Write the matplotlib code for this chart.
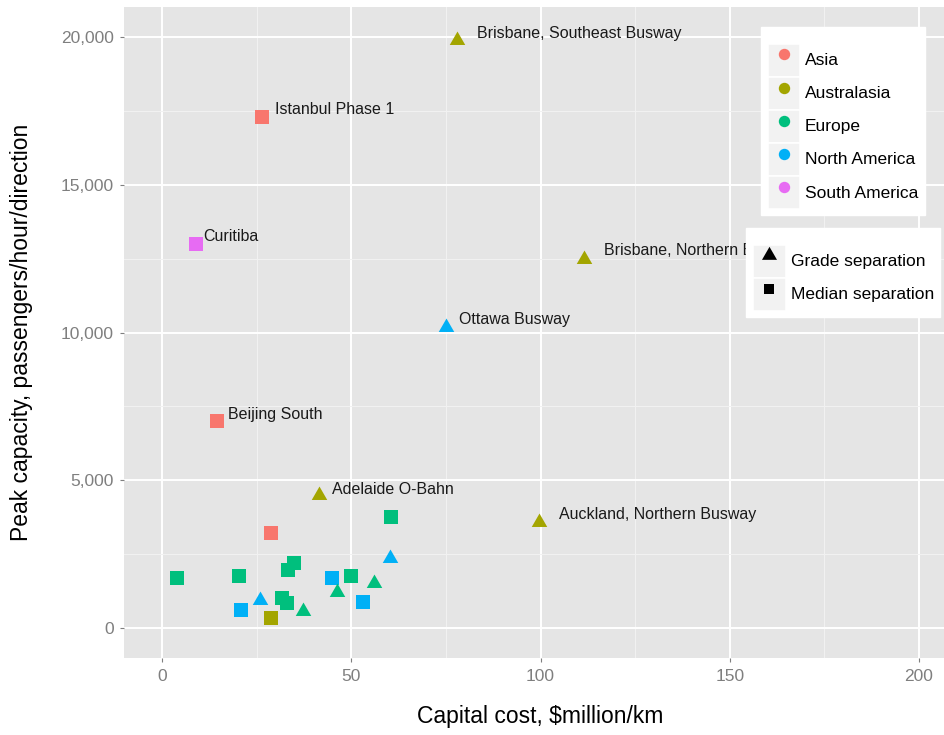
import matplotlib
matplotlib.use("Agg")
import matplotlib.pyplot as plt
from matplotlib.lines import Line2D
from matplotlib.patches import Rectangle
from matplotlib.legend_handler import HandlerTuple
from matplotlib.ticker import MultipleLocator, FuncFormatter

plt.rcParams['font.family'] = ['Liberation Sans', 'DejaVu Sans']

# ---- data -------------------------------------------------------------
system_names = [
    "Brisbane, Southeast Busway", "Istanbul Phase 1", "Curitiba",
    "Brisbane, Northern Busway", "Ottawa Busway", "Beijing South",
    "Adelaide O-Bahn", "Auckland, Northern Busway",
    "", "", "", "", "", "", "", "", "", "", "", "", "", "", "", "", "", "",
]
capital_cost = [
    78.0, 26.5, 9.0, 111.5, 75.0, 14.5, 41.5, 99.5,
    28.8, 3.9, 20.4, 34.8, 33.3, 25.9, 20.8, 31.7, 32.9, 28.8,
    37.3, 44.9, 49.9, 46.3, 55.9, 53.0, 60.2, 60.4,
]
peak_capacity = [
    19900, 17300, 13000, 12500, 10200, 7000, 4500, 3600,
    3200, 1700, 1750, 2200, 1950, 950, 600, 1000, 850, 350,
    580, 1700, 1750, 1230, 1530, 880, 2380, 3750,
]
region = [
    "Australasia", "Asia", "South America", "Australasia", "North America",
    "Asia", "Australasia", "Australasia",
    "Asia", "Europe", "Europe", "Europe", "Europe", "North America",
    "North America", "Europe", "Europe", "Australasia",
    "Europe", "North America", "Europe", "Europe", "Europe",
    "North America", "North America", "Europe",
]
separation = [
    "Grade separation", "Median separation", "Median separation",
    "Grade separation", "Grade separation", "Median separation",
    "Grade separation", "Grade separation",
    "Median separation", "Median separation", "Median separation",
    "Median separation", "Median separation", "Grade separation",
    "Median separation", "Median separation", "Median separation",
    "Median separation",
    "Grade separation", "Median separation", "Median separation",
    "Grade separation", "Grade separation", "Median separation",
    "Grade separation", "Median separation",
]

region_levels = ["Asia", "Australasia", "Europe", "North America", "South America"]
separation_levels = ["Grade separation", "Median separation"]

x_ticks = [0, 50, 100, 150, 200]
y_ticks = [0, 5000, 10000, 15000, 20000]

# ---- styling ----------------------------------------------------------
region_colors = dict(zip(region_levels,
                         ["#F8766D", "#A3A500", "#00BF7D", "#00B0F6", "#E76BF3"]))
triangle = [(0.0, 1.0), (0.866, -0.5), (-0.866, -0.5), (0.0, 1.0)]
shape_markers = {"Grade separation": triangle, "Median separation": "s"}
shape_sizes = {"Grade separation": 12.9, "Median separation": 9.4}

# text offsets (pixels right / up of the point) for the named systems
label_offsets = {
    "Brisbane, Southeast Busway": (20, 6),
    "Istanbul Phase 1": (13, 7),
    "Curitiba": (7, 7),
    "Brisbane, Northern Busway": (20, 8),
    "Ottawa Busway": (13, 7),
    "Beijing South": (11, 7),
    "Adelaide O-Bahn": (13, 6),
    "Auckland, Northern Busway": (20, 7),
}

W, H = 945, 735
fig = plt.figure(figsize=(W / 100, H / 100), dpi=100)
fig.patch.set_facecolor("white")

# panel: x from -10 to 210, y from -1000 to 21000 (right side runs past the frame)
px_left, px_right = 124.15, 956.9
px_top, px_bottom = 7.45, 657.6
ax = fig.add_axes([px_left / W, 1 - px_bottom / H,
                   (px_right - px_left) / W, (px_bottom - px_top) / H])
ax.set_xlim(-10, 210)
ax.set_ylim(-1000, 21000)
ax.set_facecolor("#E5E5E5")
for s in ax.spines.values():
    s.set_visible(False)

ax.xaxis.set_major_locator(MultipleLocator(50))
ax.xaxis.set_minor_locator(MultipleLocator(25))
ax.yaxis.set_major_locator(MultipleLocator(5000))
ax.yaxis.set_minor_locator(MultipleLocator(2500))
ax.set_xticks(x_ticks)
ax.set_yticks(y_ticks)
ax.yaxis.set_major_formatter(FuncFormatter(lambda v, p: f"{int(v):,}"))
ax.grid(which="major", color="white", linewidth=1.4)
ax.grid(which="minor", color="#F2F2F2", linewidth=0.7)
ax.set_axisbelow(True)
ax.tick_params(which="major", length=3, width=0.8, color="#7F7F7F",
               labelcolor="#7F7F7F", labelsize=12.5)
ax.tick_params(axis="x", which="major", pad=5.5)
ax.tick_params(axis="y", which="major", pad=4.5)
ax.tick_params(which="minor", length=0)

# ---- points -----------------------------------------------------------
for x, y, reg, sep in zip(capital_cost, peak_capacity, region, separation):
    ax.plot([x], [y], linestyle="none", marker=shape_markers[sep],
            markersize=shape_sizes[sep], markeredgewidth=0,
            color=region_colors[reg], zorder=3)

for name, x, y in zip(system_names, capital_cost, peak_capacity):
    if not name:
        continue
    dx, dy = label_offsets[name]
    ax.annotate(name, (x, y), xytext=(dx * 0.72, dy * 0.72),
                textcoords="offset points", ha="left", va="center",
                fontsize=11.5, color="#1A1A1A", zorder=4)

# ---- axis titles ------------------------------------------------------
ax.set_xlabel(r"Capital cost, \$million/km", fontsize=16.5, color="black")
ax.xaxis.set_label_coords(0.5, -0.073)
ax.set_ylabel("Peak capacity, passengers/hour/direction", fontsize=16.5,
              color="black")
ax.yaxis.set_label_coords(-0.1095, 0.5)

# ---- legends ----------------------------------------------------------
def key_bg():
    return Rectangle((0, 0), 1, 1, facecolor="#F2F2F2", edgecolor="white",
                     linewidth=1.2)

leg_fs = 12.5
common = dict(handler_map={tuple: HandlerTuple(ndivide=1)},
              loc="upper left", bbox_transform=fig.transFigure,
              fontsize=leg_fs, title=" ", title_fontsize=7,
              handleheight=2.55, labelspacing=0, borderpad=0.38,
              borderaxespad=0, frameon=True, fancybox=False, framealpha=1,
              facecolor="white", edgecolor="white")

region_handles = [(key_bg(), Line2D([], [], linestyle="none", marker="o",
                                    markersize=8.2, markeredgewidth=0,
                                    color=region_colors[r]))
                  for r in region_levels]
leg1 = ax.legend(region_handles, region_levels,
                 bbox_to_anchor=(761 / W, 1 - 27 / H),
                 handlelength=1.84, handletextpad=0.29, **common)
ax.add_artist(leg1)

shape_handles = [(key_bg(), Line2D([], [], linestyle="none",
                                   marker=shape_markers[s],
                                   markersize=12.5 if s == "Grade separation" else 7.8,
                                   markeredgewidth=0, color="black"))
                 for s in separation_levels]
leg2 = ax.legend(shape_handles, separation_levels,
                 bbox_to_anchor=(746 / W, 1 - 228 / H),
                 handlelength=1.9, handletextpad=0.29, **common)
leg1.set_zorder(6)
leg2.set_zorder(6)

fig.savefig("out.png", dpi=100)
